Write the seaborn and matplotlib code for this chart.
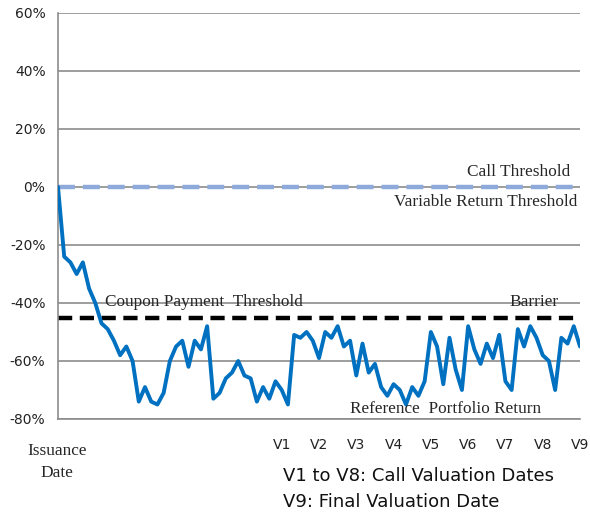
import numpy as np
import pandas as pd
import matplotlib
matplotlib.use("Agg")
import matplotlib.pyplot as plt
import seaborn as sns

# monthly reference portfolio return (%), issuance date = month 0
retorno = [0, -24, -26, -30, -26, -35, -40, -47, -49, -53, -58, -55, -60, -74, -69,
           -74, -75, -71, -60, -55, -53, -62, -53, -56, -48, -73, -71, -66, -64, -60,
           -65, -66, -74, -69, -73, -67, -70, -75, -51, -52, -50, -53, -59, -50, -52,
           -48, -55, -53, -65, -54, -64, -61, -69, -72, -68, -70, -75, -69, -72, -67,
           -50, -55, -68, -52, -63, -70, -48, -56, -61, -54, -59, -51, -67, -70, -49,
           -55, -48, -52, -58, -60, -70, -52, -54, -48, -55]
call_threshold = 0
barrier = -45
rotulos_v = ["V1", "V2", "V3", "V4", "V5", "V6", "V7", "V8", "V9"]
y_ticks = [60, 40, 20, 0, -20, -40, -60, -80]

df = pd.DataFrame({"mes": np.arange(len(retorno)), "retorno": retorno})

sns.set_style("white")
fig = plt.figure(figsize=(5.9, 5.15), dpi=100)
ax = fig.add_axes([58 / 590, 1 - 419 / 515, 522 / 590, 406 / 515])

# grid horizontal
for v in y_ticks:
    ax.axhline(v, color="#8c8c8c", lw=1.2, zorder=0)

# thresholds
ax.axhline(call_threshold, color="#8eaadb", lw=3.2, ls=(0, (3.8, 1.8)), zorder=2)
ax.axhline(barrier, color="black", lw=3.2, ls=(0, (3.2, 1.7)), zorder=2)

sns.lineplot(data=df, x="mes", y="retorno", color="#0070c0", lw=2.8, ax=ax, zorder=3)

ax.set_xlim(0, 84)
ax.set_ylim(-80, 60)
ax.set_yticks(y_ticks)
ax.set_yticklabels([f"{v}%" for v in y_ticks], fontsize=10, color="#222222")
ax.set_xticks(np.arange(0, 85, 6))
ax.set_xticklabels([""] * 6 + rotulos_v, fontsize=10, color="#222222")
ax.set_xlabel("")
ax.set_ylabel("")
ax.tick_params(axis="both", direction="out", length=6, width=1.2, color="#8c8c8c", pad=8)
ax.tick_params(axis="y", pad=3)

for s in ["top", "right"]:
    ax.spines[s].set_visible(False)
for s in ["left", "bottom"]:
    ax.spines[s].set_color("#8c8c8c")
    ax.spines[s].set_linewidth(1.2)

serif = ["Liberation Serif", "DejaVu Serif"]
fs = 12.4
ax.text(82.4, 2.3, "Call Threshold", family=serif, fontsize=fs, ha="right", va="bottom")
ax.text(83.5, -2.3, "Variable Return Threshold", family=serif, fontsize=fs, ha="right", va="top")
ax.text(7.6, -42.3, "Coupon Payment  Threshold", family=serif, fontsize=fs, ha="left", va="bottom")
ax.text(80.6, -42.3, "Barrier", family=serif, fontsize=fs, ha="right", va="bottom")
ax.text(62.3, -79.2, "Reference  Portfolio Return", family=serif, fontsize=fs, ha="center", va="bottom")

fig.text(57 / 590, 1 - 462 / 515, "Issuance\nDate", family=serif, fontsize=fs,
         ha="center", va="center", linespacing=1.45)
fig.text(283 / 590, 1 - 476 / 515, "V1 to V8: Call Valuation Dates", fontsize=13,
         ha="left", va="center", color="#111111")
fig.text(283 / 590, 1 - 502 / 515, "V9: Final Valuation Date", fontsize=13,
         ha="left", va="center", color="#111111")

fig.savefig("out.png", dpi=100)
